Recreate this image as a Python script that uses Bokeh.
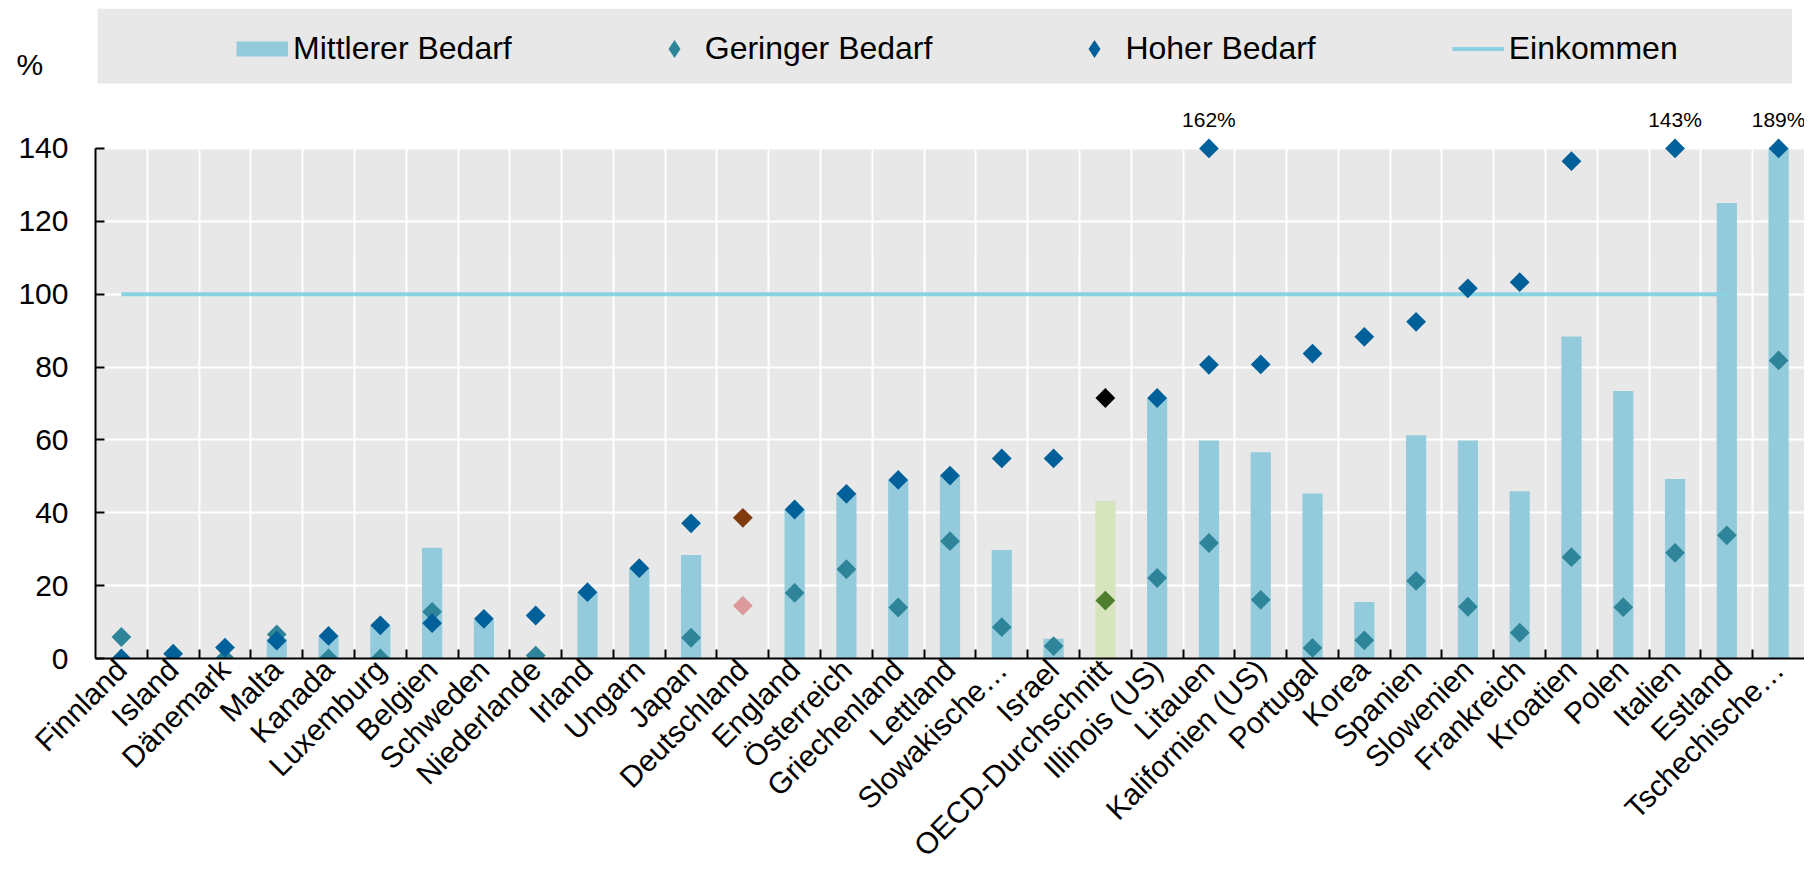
import math
from bokeh.plotting import figure
from bokeh.models import (FactorRange, Range1d, ColumnDataSource, FixedTicker, Grid,
                          BoxAnnotation, Legend, LegendItem, Label)
from bokeh.core.properties import value
from bokeh.embed import file_html
from bokeh.resources import INLINE

# ---------------- data ----------------
countries = ["Finnland", "Island", "Dänemark", "Malta", "Kanada", "Luxemburg", "Belgien",
             "Schweden", "Niederlande", "Irland", "Ungarn", "Japan", "Deutschland", "England",
             "Österreich", "Griechenland", "Lettland", "Slowakische…", "Israel",
             "OECD-Durchschnitt", "Illinois (US)", "Litauen", "Kalifornien (US)", "Portugal",
             "Korea", "Spanien", "Slowenien", "Frankreich", "Kroatien", "Polen", "Italien",
             "Estland", "Tschechische…"]

# Mittlerer Bedarf (bars)
medium_need = [None, None, None, 5.5, 6.0, 9.0, 30.4, 10.5, None, 18.1, 24.7, 28.4, None, 40.9,
               45.2, 49.0, 50.2, 29.8, 5.4, 43.3, 71.5, 59.8, 56.6, 45.3, 15.5, 61.3, 59.8, 45.9,
               88.4, 73.4, 49.3, 125.0, 140.0]
# Geringer Bedarf
low_need = [5.9, None, 0.0, 6.6, 0.0, 0.0, 12.8, None, 0.8, None, None, 5.7, 14.5, 18.0, 24.5,
            14.0, 32.2, 8.6, 3.4, 15.9, 22.1, 31.7, 16.1, 2.9, 5.0, 21.3, 14.2, 7.1, 27.8, 14.1,
            29.0, 33.8, 81.8]
# Hoher Bedarf
high_need = [0.0, 1.3, 3.0, 4.9, 6.2, 9.1, 9.7, 10.9, 11.8, 18.2, 24.8, 37.1, 38.6, 40.9, 45.2,
             49.0, 50.2, 54.9, 54.9, 71.5, 71.5, 80.6, 80.7, 83.7, 88.3, 92.4, 101.6, 103.3,
             136.5, None, None, None, None]
# Hoher Bedarf beyond the axis (shown at the top of the axis with a label)
capped_countries = ["Litauen", "Italien", "Tschechische…"]
capped_shown = [140, 140, 140]
capped_labels = ["162%", "143%", "189%"]
# Einkommen
income_countries = ["Finnland", "Island", "Dänemark", "Malta", "Kanada", "Luxemburg", "Belgien",
                    "Schweden", "Niederlande", "Irland", "Ungarn", "Japan", "Deutschland",
                    "England", "Österreich", "Griechenland", "Lettland", "Slowakische…", "Israel",
                    "OECD-Durchschnitt", "Illinois (US)", "Litauen", "Kalifornien (US)",
                    "Portugal", "Korea", "Spanien", "Slowenien", "Frankreich", "Kroatien",
                    "Polen", "Italien", "Estland"]
income = [100, 100, 100, 100, 100, 100, 100, 100, 100, 100, 100, 100, 100, 100, 100, 100,
          100, 100, 100, 100, 100, 100, 100, 100, 100, 100, 100, 100, 100, 100, 100, 100]
y_ticks = [0, 20, 40, 60, 80, 100, 120, 140]

# ---------------- styles ----------------
FONT = "Liberation Sans"
GRAY = "#E8E8E8"
BAR = "#93CBDC"
LOW = "#2E8599"
HIGH = "#00609A"
LINE = "#89D2E2"
special_bar = {"OECD-Durchschnitt": "#D7E4BD"}
special_low = {"Deutschland": "#DC9A9C", "OECD-Durchschnitt": "#4E7D2E"}
special_high = {"Deutschland": "#7F3A0E", "OECD-Durchschnitt": "#000000"}
NAN = float("nan")

src = ColumnDataSource(dict(
    country=countries,
    medium=[NAN if v is None else v for v in medium_need],
    low=[NAN if v is None else v for v in low_need],
    high=[NAN if v is None else v for v in high_need],
    bar_color=[special_bar.get(c, BAR) for c in countries],
    low_color=[special_low.get(c, LOW) for c in countries],
    high_color=[special_high.get(c, HIGH) for c in countries],
))
cap_src = ColumnDataSource(dict(country=capped_countries, y=capped_shown, label=capped_labels))

p = figure(x_range=FactorRange(factors=countries, range_padding=0),
           y_range=Range1d(0, 178.4),
           frame_width=1709, frame_height=650,
           min_border_left=0, min_border_right=0, min_border_top=0, min_border_bottom=0,
           output_backend="svg", toolbar_location=None,
           background_fill_color="white", border_fill_color="white", outline_line_color=None)
p.margin = (8, 0, 0, -12)
p.xgrid.visible = False
p.ygrid.visible = False

# gray plot area and legend band
p.add_layout(BoxAnnotation(bottom=0, top=140, fill_color=GRAY, fill_alpha=1,
                           line_color=None, level="underlay"))
p.add_layout(BoxAnnotation(left=0.04, right=32.76, bottom=157.8, fill_color=GRAY, fill_alpha=1,
                           line_color=None, level="underlay"))

# grids
p.add_layout(Grid(dimension=1, ticker=FixedTicker(ticks=y_ticks), grid_line_color="white",
                  grid_line_width=2, level="underlay"))
p.add_layout(Grid(dimension=0, ticker=FixedTicker(ticks=list(range(1, len(countries)))),
                  cross_bounds=(0, 140), grid_line_color="white", grid_line_width=2,
                  level="underlay"))
# category boundary tick marks on the x axis
p.add_layout(Grid(dimension=0, ticker=FixedTicker(ticks=list(range(1, len(countries) + 1))),
                  cross_bounds=(0, 2.5), grid_line_color="black", grid_line_width=2,
                  level="guide"))

# glyphs
p.vbar(x="country", top="medium", width=0.39, fill_color="bar_color", line_color=None,
       source=src)
inc = p.line(x=income_countries, y=income, line_color=LINE, line_width=4)
p.scatter(x="country", y="low", marker="square", angle=math.pi / 4, size=14,
          fill_color="low_color", line_color=None, source=src)
p.scatter(x="country", y="high", marker="square", angle=math.pi / 4, size=14,
          fill_color="high_color", line_color=None, source=src)
p.scatter(x="country", y="y", marker="square", angle=math.pi / 4, size=14,
          fill_color=HIGH, line_color=None, source=cap_src)
p.text(x="country", y="y", text="label", source=cap_src, y_offset=-29,
       text_align="center", text_baseline="middle", text_font_size="21px",
       text_font=value(FONT), text_color="black")

# legend keys (one empty point each, only used to draw the legend symbols)
key_src = ColumnDataSource(dict(x=[countries[0]], y=[NAN]))
key_bar = p.line(x="x", y="y", source=key_src, line_color=BAR, line_width=15)
key_low = p.scatter(x="x", y="y", source=key_src, marker="diamond", fill_color=LOW,
                    line_color=None)
key_high = p.scatter(x="x", y="y", source=key_src, marker="diamond", fill_color=HIGH,
                     line_color=None)

legend = Legend(items=[LegendItem(label="Mittlerer Bedarf", renderers=[key_bar]),
                       LegendItem(label="Geringer Bedarf", renderers=[key_low]),
                       LegendItem(label="Hoher Bedarf", renderers=[key_high]),
                       LegendItem(label="Einkommen", renderers=[inc])],
                location=(141, 587), orientation="horizontal", glyph_width=52,
                glyph_height=45, label_height=45, label_standoff=5, spacing=136, padding=5,
                margin=0, background_fill_alpha=0, border_line_color=None,
                label_text_font_size="32px", label_text_font=FONT, label_text_color="black")
p.add_layout(legend)

# unit label, in the left panel above the tick labels
p.add_layout(Label(x=28, y=163, x_units="canvas", y_units="data", text="%",
                   text_align="left", text_baseline="middle", text_font_size="30px",
                   text_font=FONT, text_color="black"), "left")

# axes
p.yaxis.ticker = FixedTicker(ticks=y_ticks)
p.yaxis.bounds = (0, 140)
p.yaxis.major_tick_in = 9
p.yaxis.major_tick_out = 0
p.yaxis.minor_tick_in = 0
p.yaxis.minor_tick_out = 0
p.yaxis.axis_line_width = 2
p.yaxis.major_tick_line_width = 2
p.yaxis.axis_line_color = "black"
p.yaxis.major_label_text_font_size = "30px"
p.yaxis.major_label_text_font = FONT
p.yaxis.major_label_text_color = "black"
p.yaxis.major_label_standoff = 27

p.xaxis.major_tick_line_color = None
p.xaxis.major_tick_in = 0
p.xaxis.major_tick_out = 0
p.xaxis.axis_line_width = 2
p.xaxis.axis_line_color = "black"
p.xaxis.major_label_orientation = math.pi / 4
p.xaxis.major_label_text_font_size = "30px"
p.xaxis.major_label_text_font = FONT
p.xaxis.major_label_text_color = "black"
p.xaxis.major_label_standoff = 6

open("out.html", "w").write(file_html(p, INLINE))
